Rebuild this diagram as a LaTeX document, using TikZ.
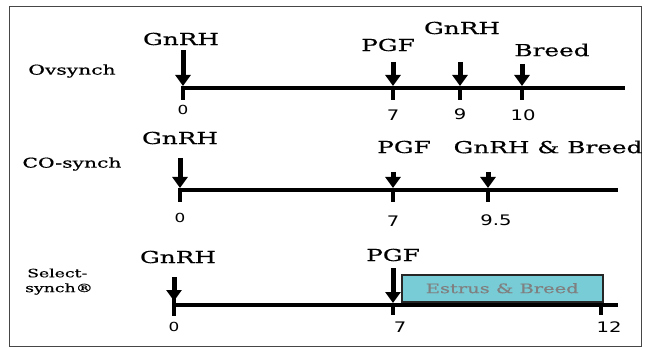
\documentclass[tikz,border=0pt]{standalone}
\usepackage{fontspec}
\setmainfont{DejaVu Serif}[FakeStretch=1.5,FakeBold=0.6]
\newfontfamily\numfont{DejaVu Sans}[FakeStretch=1.35]
\usetikzlibrary{arrows.meta}
\definecolor{boxcyan}{RGB}{120,204,214}
\definecolor{framegray}{RGB}{70,70,70}
\begin{document}
\begin{tikzpicture}[x=1pt,y=-1pt,
  lbl/.style={font=\fontsize{16.5}{18}\selectfont, inner sep=0pt},
  rowname/.style={font=\fontsize{13.5}{15}\selectfont, inner sep=0pt},
  smallname/.style={font=\fontsize{11.5}{13}\selectfont, inner sep=0pt, anchor=west},
  num/.style={font=\numfont\fontsize{14.5}{16}\selectfont, inner sep=0pt},
  zero/.style={font=\numfont\fontsize{12.5}{14}\selectfont, inner sep=0pt},
  timeline/.style={line width=3.5pt},
  tickmark/.style={line width=4pt},
  evarrow/.style={line width=5pt, -{Triangle[width=15pt,length=11pt]}},
  estrusbox/.style={draw=black!85, line width=1.5pt, fill=boxcyan, inner sep=0pt}
]
\useasboundingbox (0,0) rectangle (650,347);
\draw[framegray, line width=1pt] (9,7) rectangle (641,346);

% ---------- Row 1: Ovsynch ----------
\node[rowname] (ov) at (72,71) {Ovsynch};
\coordinate (r1s) at (181,88);
\coordinate (r1e) at (625,88);
\draw[timeline] (r1s) -- (r1e);
\foreach \n/\x in {0/183,7/393,9/460,10/522}{
  \coordinate (t1-\n) at (\x,88);
  \coordinate (b1-\n) at (\x,100);
  \draw[tickmark] (t1-\n) -- (b1-\n);
}
\coordinate (a1-0) at (183,50);
\coordinate (a1-7) at (393,62);
\coordinate (a1-9) at (460,62);
\coordinate (a1-10) at (522,64);
\coordinate (e1-0) at (183,86);
\coordinate (e1-7) at (393,86);
\coordinate (e1-9) at (460,86);
\coordinate (e1-10) at (522,86);
\foreach \n in {0,7,9,10}{ \draw[evarrow] (a1-\n) -- (e1-\n); }
\node[lbl] (g1) at (181,39) {GnRH};
\node[lbl] (p1) at (388,45) {PGF};
\node[lbl] (g1b) at (462,28) {GnRH};
\node[lbl] (br1) at (552,50) {Breed};
\node[zero] (n1-0) at (183,110) {0};
\node[num] (n1-7) at (393,115) {7};
\node[num] (n1-9) at (460,114) {9};
\node[num] (n1-10) at (523,115) {10};

% ---------- Row 2: CO-synch ----------
\node[rowname] (co) at (72,164) {CO-synch};
\coordinate (r2s) at (178,190);
\coordinate (r2e) at (618,190);
\draw[timeline] (r2s) -- (r2e);
\foreach \n/\x in {0/180,7/393,95/488}{
  \coordinate (t2-\n) at (\x,190);
  \coordinate (b2-\n) at (\x,202);
  \draw[tickmark] (t2-\n) -- (b2-\n);
}
\coordinate (a2-0) at (180,158);
\coordinate (a2-7) at (393,172);
\coordinate (a2-95) at (488,172);
\coordinate (e2-0) at (180,188);
\coordinate (e2-7) at (393,188);
\coordinate (e2-95) at (488,188);
\foreach \n in {0,7,95}{ \draw[evarrow] (a2-\n) -- (e2-\n); }
\node[lbl] (g2) at (180,138) {GnRH};
\node[lbl] (p2) at (404,147) {PGF};
\node[lbl] (gb2) at (548,147) {GnRH \& Breed};
\node[zero] (n2-0) at (180,218) {0};
\node[num] (n2-7) at (393,221) {7};
\node[num] (n2-95) at (496,220) {9.5};

% ---------- Row 3: Select-synch ----------
\node[smallname] (ss1) at (27,273) {Select-};
\node[smallname] (ss2) at (25,289) {synch®};
\coordinate (r3s) at (174,305);
\coordinate (r3e) at (618,305);
\draw[timeline] (r3s) -- (r3e);
\coordinate (t3-0) at (174,296);
\coordinate (b3-0) at (174,316);
\draw[tickmark] (t3-0) -- (b3-0);
\foreach \n/\x in {7/393,12/601}{
  \coordinate (t3-\n) at (\x,305);
  \coordinate (b3-\n) at (\x,315);
  \draw[tickmark] (t3-\n) -- (b3-\n);
}
\node[estrusbox, minimum width=201pt, minimum height=27pt, anchor=north west] (eb) at (401,274) {};
\node[font=\fontsize{13}{15}\selectfont, text=black!50, inner sep=0pt] (ebt) at (eb.center) {Estrus \& Breed};
\coordinate (a3-0) at (174,277);
\coordinate (a3-7) at (393,268);
\coordinate (e3-0) at (174,301);
\coordinate (e3-7) at (393,303);
\draw[evarrow] (a3-0) -- (e3-0);
\draw[evarrow] (a3-7) -- (e3-7);
\node[lbl] (g3) at (178,257) {GnRH};
\node[lbl] (p3) at (393,255) {PGF};
\node[zero] (n3-0) at (174,327) {0};
\node[num] (n3-7) at (400,327) {7};
\node[num] (n3-12) at (609,327) {12};
\end{tikzpicture}
\end{document}
